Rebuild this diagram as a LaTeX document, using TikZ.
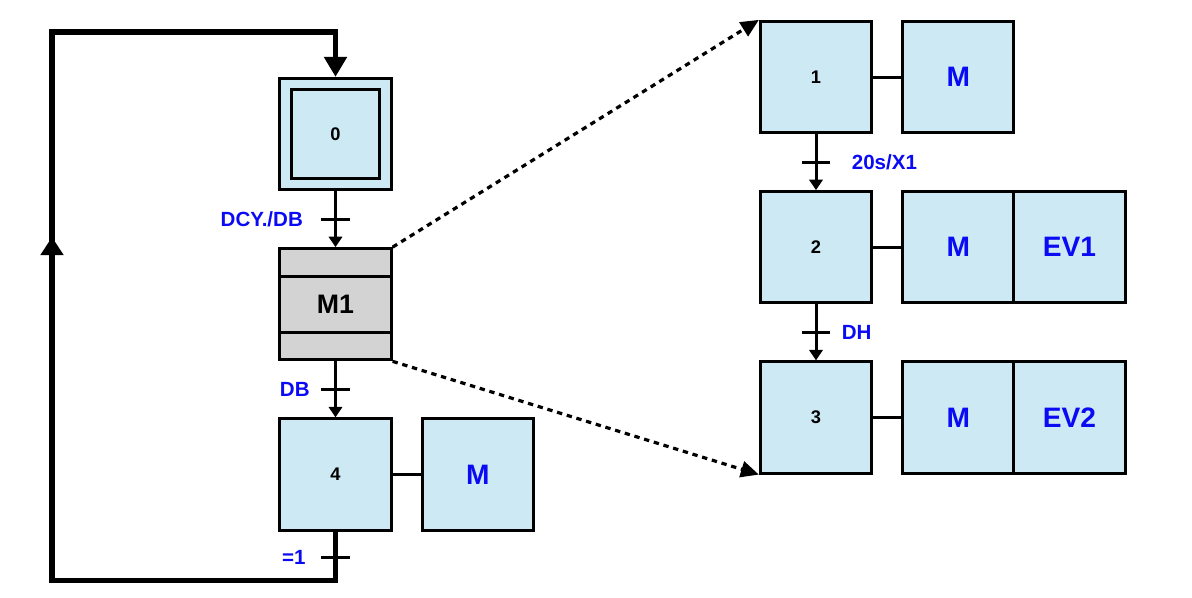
\documentclass[tikz,border=0pt]{standalone}
\usepackage{fontspec}
\setmainfont{Liberation Sans}
\usetikzlibrary{arrows.meta, positioning, calc}
\definecolor{StepFill}{RGB}{205,234,244}
\definecolor{MacroFill}{RGB}{211,211,211}
\definecolor{CondBlue}{RGB}{10,10,245}
\tikzset{
  >={Triangle[width=0.33cm,length=0.26cm]},
  % tappe del grafcet
  etape/.style={draw,line width=0.075cm,fill=StepFill,minimum size=2.78cm,inner sep=0,font=\bfseries\fontsize{13}{15}\selectfont},
  etape in/.style={etape,minimum size=2.22cm},
  macro/.style={etape,fill=MacroFill,font=\bfseries\fontsize{19}{22}\selectfont},
  action/.style={etape,text=CondBlue,font=\bfseries\fontsize{20}{24}\selectfont},
  cond/.style={text=CondBlue,inner sep=0,font=\bfseries\fontsize{14.6}{17}\selectfont},
  % collegamenti
  link/.style={line width=0.075cm},
  link arrow/.style={link,->},
  loop/.style={line width=0.125cm},
  zoom arrow/.style={line width=0.08cm,dash pattern=on 3.8pt off 3.4pt,-{Triangle[width=0.4cm,length=0.45cm]}},
  tick/.style={line width=0.075cm}
}
\begin{document}
\begin{tikzpicture}[x=0.025cm,y=-0.025cm]
  \useasboundingbox (0,0) rectangle (1192,598);
  % grafcet principale
  \node[etape] (X0) at (335.5,134) {};
  \node[etape in] (X0in) at (X0) {0};
  \node[macro,below=1.4cm of X0] (M1) {M1};
  \node[etape,below=1.4cm of M1] (X4) {4};
  \node[action,right=0.7cm of X4] (A4) {M};
  \draw[link] ($(M1.north west)!0.254!(M1.south west)$) -- ($(M1.north east)!0.254!(M1.south east)$);
  \draw[link] ($(M1.north west)!0.746!(M1.south west)$) -- ($(M1.north east)!0.746!(M1.south east)$);
  \draw[link] (X4) -- (A4);
  \draw[link arrow] (X0) -- (M1);
  \draw[link arrow] (M1) -- (X4);
  % transizioni
  \coordinate (t0) at ($(X0.south)!0.5!(M1.north)$);
  \coordinate (t4) at ($(M1.south)!0.5!(X4.north)$);
  \coordinate (t5) at (335.5,557);
  \foreach \t in {t0,t4,t5}
    \draw[tick] ([xshift=-0.35cm]\t) -- ([xshift=0.35cm]\t);
  \node[cond,left=0.81cm of t0] (c0) {DCY./DB};
  \node[cond,left=0.64cm of t4] (c4) {DB};
  \node[cond,left=0.74cm of t5] (c5) {=1};
  % ritorno
  \coordinate (loopBR) at (335.5,580);
  \coordinate (loopBL) at (52,580);
  \coordinate (loopTL) at (52,32);
  \coordinate (loopTR) at (335.5,32);
  \coordinate (loopMid) at (52,237);
  \draw[loop,-{Triangle[width=0.55cm,length=0.5cm]}] (X4.south) -- (loopBR) -- (loopBL) -- (loopTL) -- (loopTR) -- (X0.north);
  \draw[loop,-{Triangle[width=0.55cm,length=0.45cm]}] (loopBL) -- (loopMid);
  % espansione della macro-tappa
  \node[etape] (X1) at (816,77) {1};
  \node[etape,below=1.4cm of X1] (X2) {2};
  \node[etape,below=1.4cm of X2] (X3) {3};
  \node[action,right=0.7cm of X1] (A1) {M};
  \node[action,right=0.7cm of X2] (A2) {M};
  \node[action,right=-0.075cm of A2] (B2) {EV1};
  \node[action,right=0.7cm of X3] (A3) {M};
  \node[action,right=-0.075cm of A3] (B3) {EV2};
  \foreach \s/\a in {X1/A1,X2/A2,X3/A3}
    \draw[link] (\s) -- (\a);
  \draw[link arrow] (X1) -- (X2);
  \draw[link arrow] (X2) -- (X3);
  \coordinate (t1) at ($(X1.south)!0.5!(X2.north)$);
  \coordinate (t2) at ($(X2.south)!0.5!(X3.north)$);
  \foreach \t in {t1,t2}
    \draw[tick] ([xshift=-0.35cm]\t) -- ([xshift=0.35cm]\t);
  \node[cond,right=0.89cm of t1] (c1) {20s/X1};
  \node[cond,right=0.64cm of t2] (c2) {DH};
  \draw[zoom arrow] (M1.north east) -- (X1.north west);
  \draw[zoom arrow] (M1.south east) -- (X3.south west);
\end{tikzpicture}
\end{document}
